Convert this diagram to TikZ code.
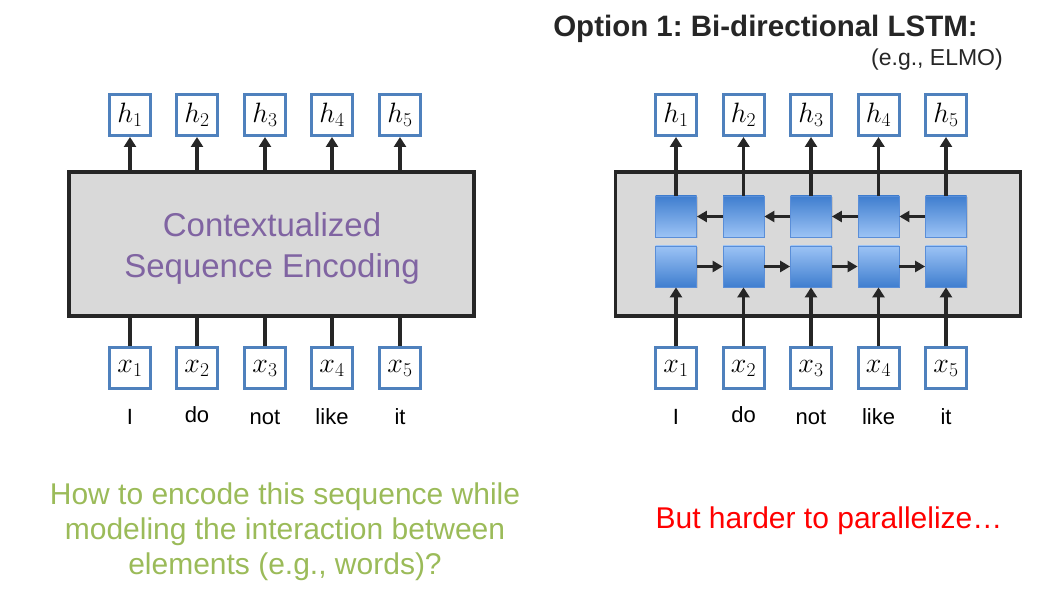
\documentclass[tikz,border=0pt]{standalone}
\usepackage{fix-cm}
\usepackage{fontspec}
\setmainfont{Liberation Sans}
\usetikzlibrary{arrows.meta, shadows}
\definecolor{boxblue}{HTML}{4F81BD}
\definecolor{linegray}{HTML}{262626}
\definecolor{encgray}{HTML}{D9D9D9}
\definecolor{celldark}{HTML}{3F7ECF}
\definecolor{celllight}{HTML}{9CC3F5}
\definecolor{cellborder}{HTML}{5A8ED8}
\definecolor{textpurple}{HTML}{8064A2}
\definecolor{textgreen}{HTML}{9BBB59}
\frenchspacing

\begin{document}
\begin{tikzpicture}[x=1pt, y=-1pt,
    vec/.style={draw=boxblue, line width=3pt, fill=white, minimum size=41pt, inner sep=0pt, font=\fontsize{28}{32}\selectfont},
    enc/.style={draw=linegray, line width=3.2pt, fill=encgray, minimum width=405pt, minimum height=144pt},
    cellup/.style={draw=cellborder, line width=0.8pt, minimum size=41pt, top color=celldark, bottom color=celllight,
        drop shadow={opacity=0.25, shadow xshift=1.2pt, shadow yshift=-1.2pt}},
    celldown/.style={draw=cellborder, line width=0.8pt, minimum size=41pt, top color=celllight, bottom color=celldark,
        drop shadow={opacity=0.25, shadow xshift=1.2pt, shadow yshift=-1.2pt}},
    word/.style={anchor=base, font=\fontsize{22}{26}\selectfont},
    conn/.style={draw=linegray, line width=3.8pt},
    arr/.style={conn, -{Triangle[width=12pt,length=10pt]}},
    harr/.style={conn, -{Triangle[width=11pt,length=10pt]}},
  ]
        \useasboundingbox (0,0) rectangle (1042,593);

        % Left: encoder
        \node[enc] (encL) at (271.5, 244) {};
        \node[align=center, text=textpurple, font=\fontsize{33}{41}\selectfont] (encText) at (272, 248) {Contextualized\\Sequence Encoding};

        \node[vec] (hL1) at (130, 115) {$h_1$};
        \node[vec] (hL2) at (197, 115) {$h_2$};
        \node[vec] (hL3) at (265, 115) {$h_3$};
        \node[vec] (hL4) at (332, 115) {$h_4$};
        \node[vec] (hL5) at (400, 115) {$h_5$};

        \node[vec] (xL1) at (130, 368.5) {$x_1$};
        \node[vec] (xL2) at (197, 368.5) {$x_2$};
        \node[vec] (xL3) at (265, 368.5) {$x_3$};
        \node[vec] (xL4) at (332, 368.5) {$x_4$};
        \node[vec] (xL5) at (400, 368.5) {$x_5$};

        \node[word] (wL1) at (130, 425) {I};
        \node[word] (wL2) at (197, 423) {do};
        \node[word] (wL3) at (265, 425) {not};
        \node[word] (wL4) at (332, 425) {like};
        \node[word] (wL5) at (400, 425) {it};

        % Left edges
        \draw[arr] (encL.north -| hL1) -- (hL1);
        \draw[arr] (encL.north -| hL2) -- (hL2);
        \draw[arr] (encL.north -| hL3) -- (hL3);
        \draw[arr] (encL.north -| hL4) -- (hL4);
        \draw[arr] (encL.north -| hL5) -- (hL5);
        \draw[conn] (xL1) -- (xL1 |- encL.south);
        \draw[conn] (xL2) -- (xL2 |- encL.south);
        \draw[conn] (xL3) -- (xL3 |- encL.south);
        \draw[conn] (xL4) -- (xL4 |- encL.south);
        \draw[conn] (xL5) -- (xL5 |- encL.south);

        % Right: bi-directional LSTM
        \node[anchor=base, text=linegray, font=\bfseries\fontsize{29.5}{34}\selectfont] (title) at (765.5, 37) {Option 1: Bi-directional LSTM:};
        \node[anchor=base east, inner sep=0pt, text=linegray, font=\fontsize{23}{26}\selectfont] (elmo) at (1003, 66) {(e.g., ELMO)};

        \node[enc] (encR) at (818, 244) {};

        \node[cellup] (b1) at (676, 216.5) {};
        \node[cellup] (b2) at (743.5, 216.5) {};
        \node[cellup] (b3) at (811, 216.5) {};
        \node[cellup] (b4) at (878.5, 216.5) {};
        \node[cellup] (b5) at (946, 216.5) {};

        \node[celldown] (f1) at (676, 266.5) {};
        \node[celldown] (f2) at (743.5, 266.5) {};
        \node[celldown] (f3) at (811, 266.5) {};
        \node[celldown] (f4) at (878.5, 266.5) {};
        \node[celldown] (f5) at (946, 266.5) {};

        \node[vec] (hR1) at (676, 115) {$h_1$};
        \node[vec] (hR2) at (743.5, 115) {$h_2$};
        \node[vec] (hR3) at (811, 115) {$h_3$};
        \node[vec] (hR4) at (878.5, 115) {$h_4$};
        \node[vec] (hR5) at (946, 115) {$h_5$};

        \node[vec] (xR1) at (676, 368.5) {$x_1$};
        \node[vec] (xR2) at (743.5, 368.5) {$x_2$};
        \node[vec] (xR3) at (811, 368.5) {$x_3$};
        \node[vec] (xR4) at (878.5, 368.5) {$x_4$};
        \node[vec] (xR5) at (946, 368.5) {$x_5$};

        \node[word] (wR1) at (676, 425) {I};
        \node[word] (wR2) at (743.5, 423) {do};
        \node[word] (wR3) at (811, 425) {not};
        \node[word] (wR4) at (878.5, 425) {like};
        \node[word] (wR5) at (946, 425) {it};

        % Right edges
        \draw[arr] (b1) -- (hR1);
        \draw[arr] (b2) -- (hR2);
        \draw[arr] (b3) -- (hR3);
        \draw[arr] (b4) -- (hR4);
        \draw[arr] (b5) -- (hR5);
        \draw[harr] (b5) -- (b4);
        \draw[harr] (b4) -- (b3);
        \draw[harr] (b3) -- (b2);
        \draw[harr] (b2) -- (b1);
        \draw[harr] (f1) -- (f2);
        \draw[harr] (f2) -- (f3);
        \draw[harr] (f3) -- (f4);
        \draw[harr] (f4) -- (f5);
        \draw[arr] (xR1) -- (f1);
        \draw[arr] (xR2) -- (f2);
        \draw[arr] (xR3) -- (f3);
        \draw[arr] (xR4) -- (f4);
        \draw[arr] (xR5) -- (f5);

        % Captions
        \node[align=center, text=textgreen, font=\fontsize{30}{35}\selectfont] (question) at (285, 532) {How to encode this sequence while\\modeling the interaction between\\elements (e.g., words)?};
        \node[text=red, font=\fontsize{30}{35}\selectfont] (harder) at (829, 521) {But harder to parallelize…};
    \end{tikzpicture}
\end{document}
